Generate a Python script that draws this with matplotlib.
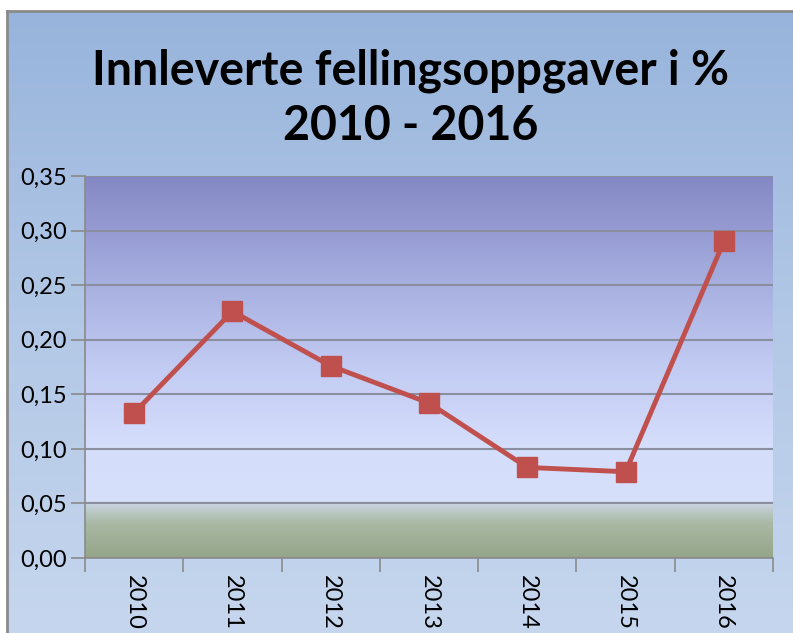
import numpy as np
import matplotlib
matplotlib.use("Agg")
import matplotlib.pyplot as plt
from matplotlib.colors import LinearSegmentedColormap
from matplotlib.ticker import MultipleLocator, FuncFormatter

years = ["2010", "2011", "2012", "2013", "2014", "2015", "2016"]
share = [0.133, 0.226, 0.176, 0.142, 0.083, 0.079, 0.290]

title = "Innleverte fellingsoppgaver i %\n2010 - 2016"

W, H = 793, 633
fig = plt.figure(figsize=(W / 100, H / 100), dpi=100)
fig.patch.set_facecolor("white")

# outer chart frame with vertical gradient
bg = fig.add_axes([7 / W, 0, 1 - 7 / W, 1 - 11 / H])
bg_cmap = LinearSegmentedColormap.from_list("bg", ["#c6d6ee", "#b2c8e6", "#98b4dc"])
bg.imshow(np.linspace(0, 1, 256).reshape(-1, 1), aspect="auto", cmap=bg_cmap,
          origin="lower", extent=[0, 1, 0, 1])
bg.set_xticks([])
bg.set_yticks([])
for s in ["right", "bottom"]:
    bg.spines[s].set_visible(False)
for s in ["left", "top"]:
    bg.spines[s].set_color("#8a8a8a")
    bg.spines[s].set_linewidth(2)
bg.set_zorder(0)

# plot area
left, right, top, bottom = 85, 773, 176, 558
ax = fig.add_axes([left / W, 1 - bottom / H, (right - left) / W, (bottom - top) / H])
ax.set_zorder(1)
x = np.arange(len(years))
ax.set_xlim(-0.5, len(years) - 0.5)
ax.set_ylim(0, 0.35)

pa_cmap = LinearSegmentedColormap.from_list("pa", [
    (0.0, "#96a68a"), (0.09, "#a9b9a4"), (0.135, "#c4d0d8"), (0.15, "#d6e0fa"),
    (0.30, "#d4ddfb"), (0.50, "#c2cbf2"), (0.72, "#a7afe0"), (1.0, "#8488c4")])
ax.imshow(np.linspace(0, 1, 256).reshape(-1, 1), aspect="auto", cmap=pa_cmap,
          origin="lower", extent=[-0.5, len(years) - 0.5, 0, 0.35], zorder=0)

ax.yaxis.set_major_locator(MultipleLocator(0.05))
ax.yaxis.set_major_formatter(FuncFormatter(lambda v, p: f"{v:.2f}".replace(".", ",")))
ax.grid(axis="y", color="#8a8fa0", linewidth=1.5, zorder=1)

ax.plot(x, share, color="#c0504d", linewidth=3.5, marker="s", markersize=15,
        markerfacecolor="#c0504d", markeredgecolor="#c0504d", zorder=3)

ax.set_xticks(np.arange(len(years) + 1) - 0.5)
ax.set_xticklabels([])
ax.set_xticks(x, minor=True)
ax.set_xticklabels(years, minor=True, rotation=-90, fontsize=17, family="Lato")
ax.tick_params(axis="x", which="minor", length=0, pad=12)
ax.tick_params(axis="x", which="major", length=10, color="#8a8a8a", width=1.2)
ax.tick_params(axis="y", length=10, color="#8a8a8a", width=1.2, labelsize=17, pad=3)
for lab in ax.get_yticklabels():
    lab.set_family("Lato")

for s in ["top", "right"]:
    ax.spines[s].set_visible(False)
for s in ["left", "bottom"]:
    ax.spines[s].set_color("#8a8a8a")
    ax.spines[s].set_linewidth(1.2)

fig.text(0.5 + 14 / W, 1 - 98 / H, title, ha="center", va="center", fontsize=33.5,
         fontweight="bold", family="Lato", linespacing=1.3)

fig.savefig("out.png", dpi=100)
